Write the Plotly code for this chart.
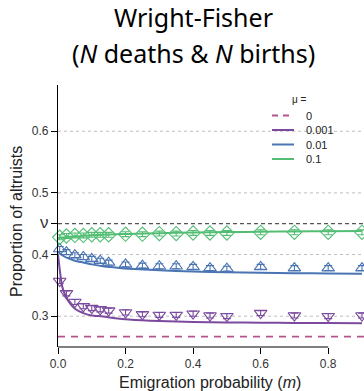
import plotly.graph_objects as go

# Simulation sample points (emigration probability m)
m_sim = [0.005, 0.025, 0.05, 0.075, 0.1, 0.125, 0.15, 0.2, 0.25, 0.3, 0.35,
         0.4, 0.45, 0.5, 0.6, 0.7, 0.8, 0.9]

sim_mu_0001 = [0.357, 0.337, 0.323, 0.316, 0.313, 0.311, 0.309, 0.306, 0.303,
               0.302, 0.302, 0.304, 0.301, 0.300, 0.305, 0.301, 0.300, 0.301]
sim_mu_001 = [0.409, 0.404, 0.399, 0.396, 0.393, 0.390, 0.387, 0.384, 0.382,
              0.381, 0.381, 0.380, 0.378, 0.377, 0.380, 0.378, 0.378, 0.378]
sim_mu_01 = [0.428, 0.430, 0.431, 0.431, 0.432, 0.432, 0.432, 0.433, 0.433,
             0.434, 0.434, 0.435, 0.435, 0.435, 0.436, 0.436, 0.436, 0.436]
sim_err = 0.004

# Analytical curves
m_th = [0.0, 0.005, 0.01, 0.015, 0.025, 0.035, 0.05, 0.075, 0.1, 0.133, 0.17,
        0.21, 0.3, 0.4, 0.5, 0.6, 0.7, 0.8, 0.9]
th_mu_0001 = [0.400, 0.376, 0.355, 0.343, 0.330, 0.321, 0.312, 0.305, 0.301,
              0.2996, 0.2966, 0.2945, 0.2920, 0.2905, 0.2898, 0.2893, 0.2890,
              0.2888, 0.2887]
th_mu_001 = [0.405, 0.402, 0.400, 0.398, 0.395, 0.393, 0.390, 0.387, 0.384,
             0.381, 0.379, 0.377, 0.3745, 0.3725, 0.3712, 0.3703, 0.3697,
             0.3693, 0.3690]
th_mu_01 = [0.427, 0.4272, 0.4275, 0.4278, 0.4283, 0.4288, 0.4294, 0.4303,
            0.4311, 0.4320, 0.4328, 0.4335, 0.4347, 0.4357, 0.4364, 0.4370,
            0.4375, 0.4378, 0.4380]
mu_zero_level = 0.2667
nu_level = 0.45

mu_labels = ["0", "0.001", "0.01", "0.1"]
colors = ["#b4548f", "#7b4a9e", "#4a74b2", "#52bd73"]
dashes = ["dash", "solid", "solid", "solid"]

y_ticks = [0.3, 0.4, nu_level, 0.5, 0.6]
y_ticktext = ["0.3", "0.4", "<span style='font-size:17px'>ν</span>", "0.5", "0.6"]
x_ticks = [0.0, 0.2, 0.4, 0.6, 0.8]
x_ticktext = ["0.0", "0.2", "0.4", "0.6", "0.8"]
grid_levels = [0.3, 0.4, 0.5, 0.6]

W, H = 364, 391
ML, MR, MT, MB = 58, 0, 85, 44
PW, PH = W - ML - MR, H - MT - MB


def px(xp):
    return (xp - ML) / PW


def py(yp):
    return (H - MB - yp) / PH


fig = go.Figure()

# Reference gridlines
for g in grid_levels:
    fig.add_shape(type="line", xref="paper", yref="y", x0=0, x1=1, y0=g, y1=g,
                  line=dict(color="#bdbdbd", width=1, dash="dot"), layer="below")
fig.add_shape(type="line", xref="paper", yref="y", x0=0, x1=1, y0=nu_level,
              y1=nu_level, line=dict(color="#555555", width=1.3, dash="4px,3px"),
              layer="below")

# mu = 0 level
fig.add_trace(go.Scatter(
    x=[0.0, 0.95], y=[mu_zero_level, mu_zero_level], mode="lines",
    name=mu_labels[0], line=dict(color=colors[0], width=1.8, dash="7px,6px")))

series = [
    (th_mu_0001, sim_mu_0001, colors[1], "triangle-down-open"),
    (th_mu_001, sim_mu_001, colors[2], "triangle-up-open"),
    (th_mu_01, sim_mu_01, colors[3], "diamond-open"),
]
for th, sim, col, sym in series:
    fig.add_trace(go.Scatter(
        x=m_th, y=th, mode="lines",
        line=dict(color=col, width=2, shape="spline", smoothing=0.6)))
for th, sim, col, sym in series:
    fig.add_trace(go.Scatter(
        x=m_sim, y=sim, mode="markers", cliponaxis=False,
        marker=dict(symbol=sym, size=11, color=col, line=dict(width=1.1, color=col)),
        error_y=dict(type="constant", value=sim_err, color=col, thickness=1.1,
                     width=4)))

# x axis line only across the labelled range
fig.add_shape(type="line", xref="x", yref="paper", x0=x_ticks[0], x1=x_ticks[-1],
              y0=0, y1=0, line=dict(color="black", width=1.2))

# Legend: mu values
annotations = [
    dict(text="μ =", xref="paper", yref="paper", x=px(299), y=py(99),
         xanchor="center", yanchor="middle", showarrow=False,
         font=dict(size=10, color="#222222"))
]
row_y = [115.5, 130, 144.5, 159]
for lab, col, dsh, ry in zip(mu_labels, colors, dashes, row_y):
    fig.add_shape(type="line", xref="paper", yref="paper", x0=px(272), x1=px(294),
                  y0=py(ry), y1=py(ry),
                  line=dict(color=col, width=2,
                            dash="6px,5px" if dsh == "dash" else "solid"))
    annotations.append(dict(text=lab, xref="paper", yref="paper", x=px(304),
                            y=py(ry), xanchor="left", yanchor="middle",
                            showarrow=False, font=dict(size=11, color="#222222")))

title_x = px(193)
annotations += [
    dict(text="Wright-Fisher", xref="paper", yref="paper", x=title_x, y=py(17),
         xanchor="center", yanchor="middle", showarrow=False,
         font=dict(family="Noto Sans", size=25, color="black")),
    dict(text="(<i>N</i> deaths & <i>N</i> births)", xref="paper", yref="paper",
         x=title_x, y=py(53), xanchor="center", yanchor="middle", showarrow=False,
         font=dict(family="Noto Sans", size=25, color="black")),
    dict(text="Proportion of altruists", xref="paper", yref="paper", x=px(17),
         y=py(222), xanchor="center", yanchor="middle", textangle=-90,
         showarrow=False, font=dict(size=16, color="#222222")),
    dict(text="Emigration probability (<i>m</i>)", xref="paper", yref="paper",
         x=px(210), y=py(382), xanchor="center", yanchor="middle",
         showarrow=False, font=dict(size=16, color="#222222")),
]

fig.update_layout(
    width=W, height=H,
    margin=dict(l=ML, r=MR, t=MT, b=MB),
    paper_bgcolor="white", plot_bgcolor="white",
    font=dict(family="Liberation Sans, Arial, sans-serif", color="#222222", size=12),
    showlegend=False,
    xaxis=dict(
        range=[0, 0.906], tickvals=x_ticks, ticktext=x_ticktext,
        ticks="outside", ticklen=6, tickcolor="black", showline=False,
        showgrid=False, zeroline=False, tickfont=dict(size=12, color="#333333"),
    ),
    yaxis=dict(
        range=[0.25, 0.675], tickvals=y_ticks, ticktext=y_ticktext,
        ticks="outside", ticklen=6, tickcolor="black", showline=True,
        linecolor="black", linewidth=1.2, showgrid=False, zeroline=False,
        tickfont=dict(size=12, color="#333333"),
    ),
    annotations=annotations,
)

fig.write_html("out.html")
